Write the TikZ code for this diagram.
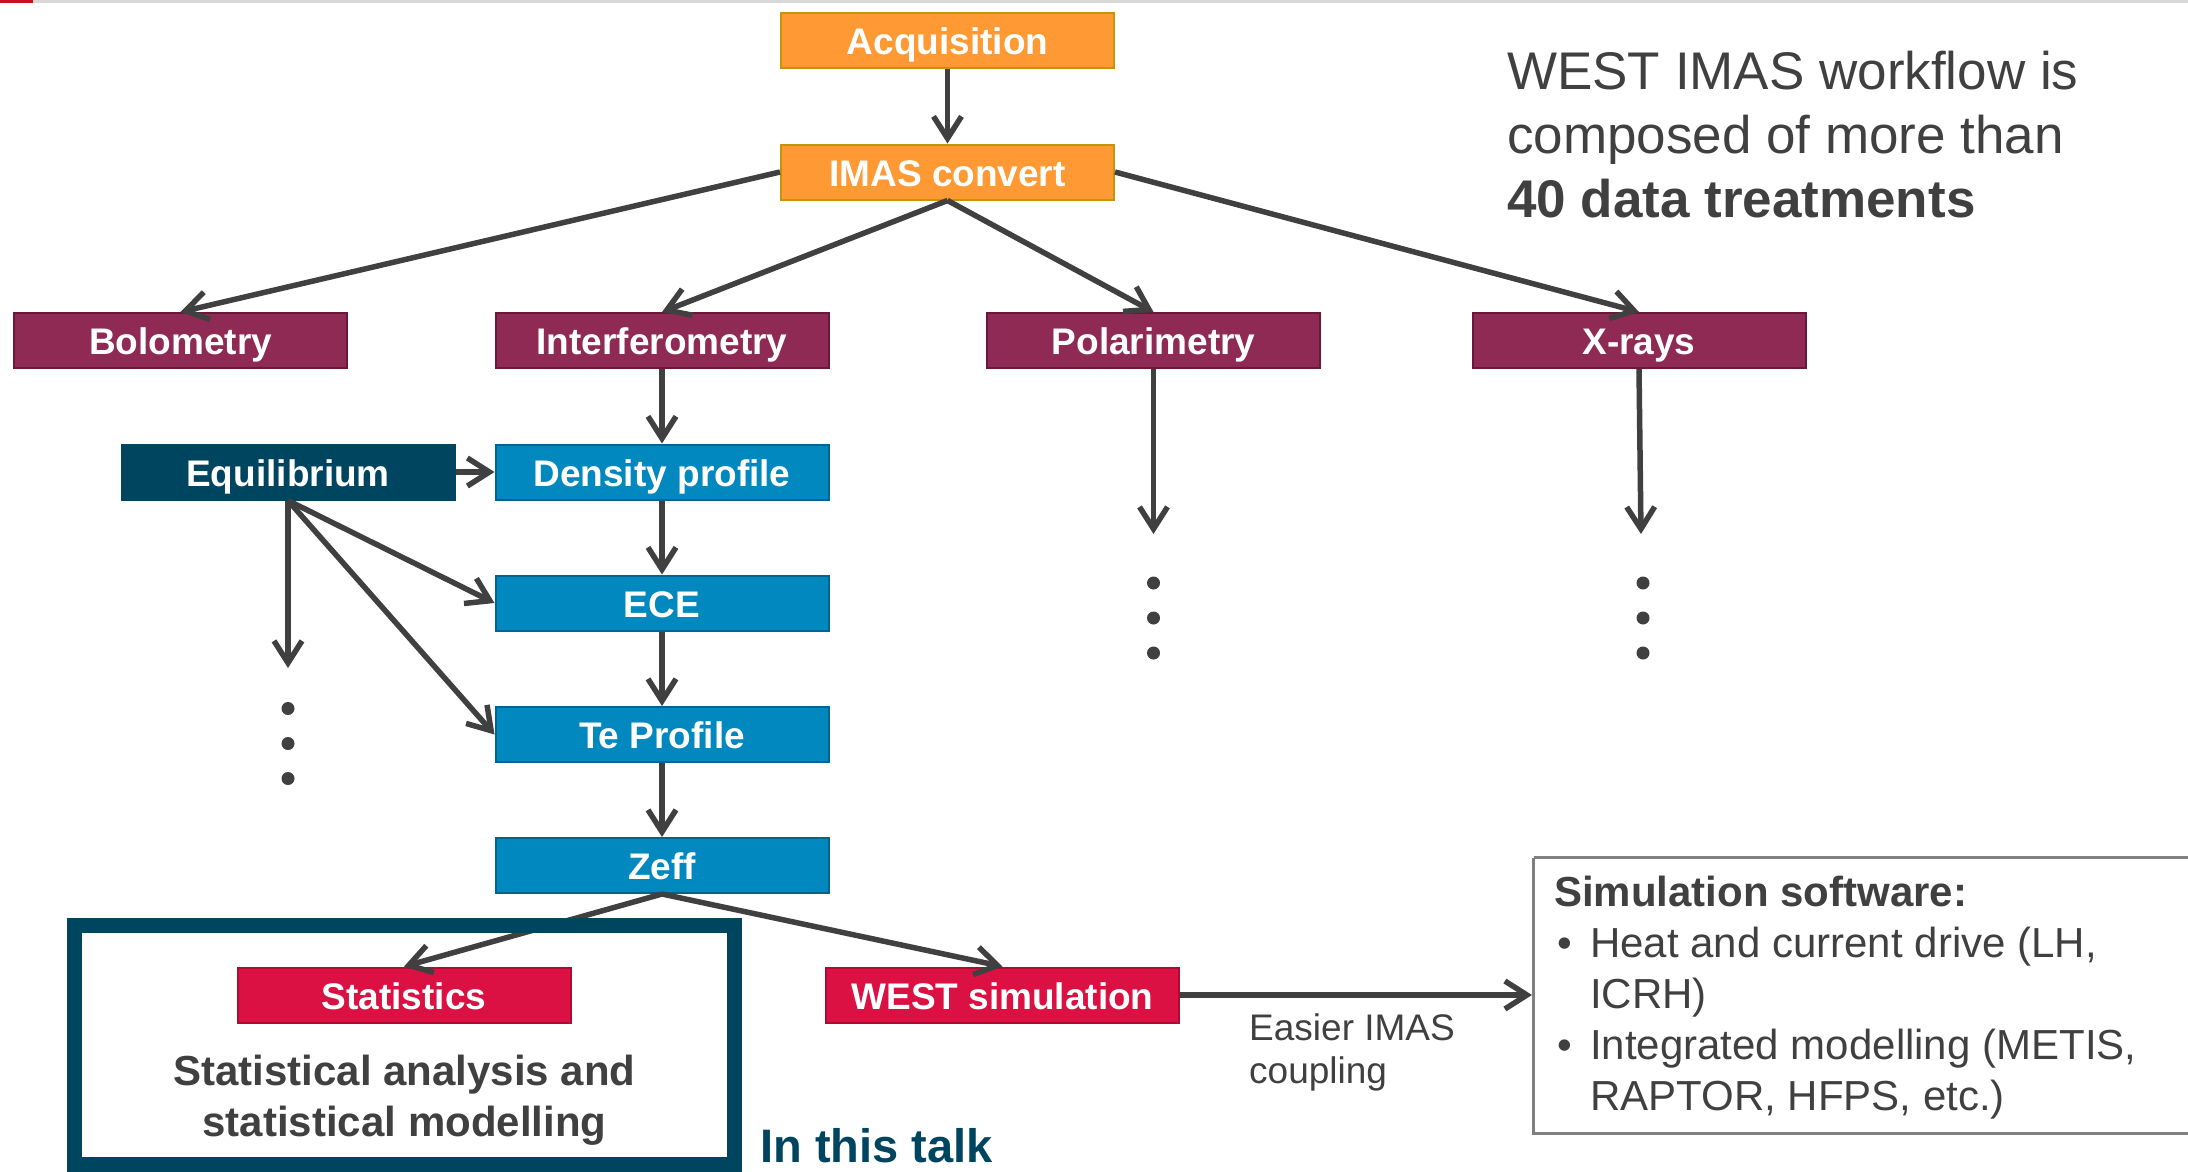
\documentclass[tikz,border=0pt]{standalone}
\usepackage{fontspec}
\setmainfont{Liberation Sans}
\usetikzlibrary{arrows.meta}
\definecolor{orF}{RGB}{255,153,51}
\definecolor{orD}{RGB}{200,146,10}
\definecolor{maF}{RGB}{142,42,83}
\definecolor{maD}{RGB}{105,24,58}
\definecolor{eqF}{RGB}{0,69,96}
\definecolor{blF}{RGB}{0,136,191}
\definecolor{blD}{RGB}{0,100,145}
\definecolor{reF}{RGB}{218,17,66}
\definecolor{reD}{RGB}{170,12,50}
\definecolor{arrC}{RGB}{64,64,64}
\definecolor{txtC}{RGB}{64,64,64}
\definecolor{topGray}{RGB}{216,216,216}
\definecolor{topRed}{RGB}{200,16,30}
\definecolor{simGray}{RGB}{128,128,128}
\newcommand\boxfont{\fontsize{37}{44}\selectfont\bfseries}
\newcommand\bigfont{\fontsize{53}{64}\selectfont}
\newcommand\simfont{\fontsize{42}{51}\selectfont}
\newcommand\smallfont{\fontsize{37}{44}\selectfont}
\begin{document}
\begin{tikzpicture}[x=1pt,y=-1pt,
  box/.style={draw, line width=2pt, minimum width=333pt, minimum height=55pt, inner sep=0pt, text height=30pt, text depth=2pt, text=white, font=\boxfont},
  orbox/.style={box, fill=orF, draw=orD},
  mabox/.style={box, fill=maF, draw=maD},
  eqbox/.style={box, fill=eqF, draw=eqF},
  blbox/.style={box, fill=blF, draw=blD},
  rebox/.style={box, fill=reF, draw=reD},
  arr/.style={draw=arrC, line width=5.5pt, -{Straight Barb[length=22pt,width=28pt]}},
  txt/.style={inner sep=0pt, anchor=base west, text=txtC},
  dot/.style={fill=arrC}
]
\useasboundingbox (0,0) rectangle (2188,1172);
\fill[white] (0,0) rectangle (2188,1172);
% top bar
\fill[topGray] (33,0) rectangle (2188,3);
\fill[topRed] (0,0) rectangle (33,3);

% nodes
\node[orbox] (acq) at (947.5,41) {Acquisition};
\node[orbox] (imas) at (947.5,172) {IMAS convert};
\node[mabox] (bolo) at (180.5,340.5) {Bolometry};
\node[mabox] (interf) at (662,340.5) {Interferometry};
\node[mabox] (polar) at (1153.5,340.5) {Polarimetry};
\node[mabox] (xray) at (1639,340.5) {X-rays};
\node[eqbox] (equil) at (288,472) {Equilibrium};
\node[blbox] (dens) at (662,472) {Density profile};
\node[blbox] (ece) at (662,603) {ECE};
\node[blbox] (te) at (662,734.5) {Te Profile};
\node[blbox] (zeff) at (662,865.5) {Zeff};
\node[rebox] (stats) at (404,995) {Statistics};
\node[rebox, minimum width=353pt] (westsim) at (1002.5,995) {WEST simulation};

% free ends
\coordinate (eqend) at (288,668);
\coordinate (polend) at (1153.5,534);
\coordinate (xrend) at (1641,534);

% arrows
\draw[arr] (acq.south) -- (imas.north);
\draw[arr] (imas.west) -- (bolo.north);
\draw[arr] (imas.south) -- (interf.north);
\draw[arr] (imas.south) -- (polar.north);
\draw[arr] (imas.east) -- (xray.north);
\draw[arr] (interf.south) -- (dens.north);
\draw[arr] (equil.east) -- (dens.west);
\draw[arr] (dens.south) -- (ece.north);
\draw[arr] (ece.south) -- (te.north);
\draw[arr] (te.south) -- (zeff.north);
\draw[arr] (equil.south) -- (ece.west);
\draw[arr] (equil.south) -- (te.west);
\draw[arr] (equil.south) -- (eqend);
\draw[arr] (polar.south) -- (polend);
\draw[arr] (xray.south) -- (xrend);
\draw[arr] (zeff.south) -- (stats.north);
\draw[arr] (zeff.south) -- (westsim.north);

% dots
\foreach \yy in {708.5,743.5,778.5} \fill[dot] (288,\yy) circle (6.5);
\foreach \yy in {583,618,653} \fill[dot] (1153.5,\yy) circle (6.5);
\foreach \yy in {583,618,653} \fill[dot] (1643,\yy) circle (6.5);

% thick box around statistics
\draw[eqF, line width=15pt] (74.5,925.5) rectangle (734.5,1164.5);
\node[txt, anchor=base, font=\simfont\bfseries] (stat1) at (404.5,1085) {Statistical analysis and};
\node[txt, anchor=base, font=\simfont\bfseries] (stat2) at (404.5,1136) {statistical modelling};
\node[txt, text=eqF, font=\fontsize{47}{56}\selectfont\bfseries] (talk) at (760,1162) {In this talk};

% simulation software box
\draw[simGray, line width=3pt] (1533.5,857.5) -- (2200,857.5) (1533.5,857.5) -- (1533.5,1133.5) -- (2200,1133.5);
\coordinate (simin) at (1532,995);
\draw[arr] (westsim.east) -- (simin);
\node[txt, font=\smallfont] (eas1) at (1249,1040) {Easier IMAS};
\node[txt, font=\smallfont] (eas2) at (1249,1083) {coupling};

\node[txt, font=\simfont\bfseries] (sim0) at (1554,906) {Simulation software:};
\node[txt, font=\simfont] (b1) at (1557,957) {•};
\node[txt, font=\simfont] (sim1) at (1590,957) {Heat and current drive (LH,};
\node[txt, font=\simfont] (sim2) at (1590,1008) {ICRH)};
\node[txt, font=\simfont] (b2) at (1557,1059) {•};
\node[txt, font=\simfont] (sim3) at (1590,1059) {Integrated modelling (METIS,};
\node[txt, font=\simfont] (sim4) at (1590,1110) {RAPTOR, HFPS, etc.)};

% top-right statement
\node[txt, font=\bigfont] (w1) at (1507,89) {WEST IMAS workflow is};
\node[txt, font=\bigfont] (w2) at (1507,153) {composed of more than};
\node[txt, font=\bigfont\bfseries] (w3) at (1507,217) {40 data treatments};
\end{tikzpicture}
\end{document}
